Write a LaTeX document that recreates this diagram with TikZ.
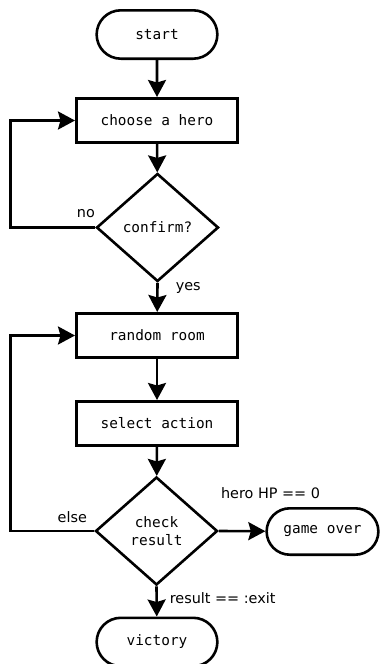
\documentclass[tikz,border=0pt]{standalone}
\usepackage{fontspec}
\setmainfont{DejaVu Sans}
\setmonofont{DejaVu Sans Mono}
\usetikzlibrary{shapes.geometric, shapes.misc, arrows.meta}
\begin{document}
\begin{tikzpicture}[
x=1pt, y=-1pt,
terminal/.style={rounded rectangle, draw=black, line width=2.6pt, minimum width=127.4pt, minimum height=48.4pt, font=\ttfamily\fontsize{14.4}{18}\selectfont},
process/.style={rectangle, draw=black, line width=2.6pt, minimum width=161.4pt, minimum height=44.4pt, font=\ttfamily\fontsize{14.4}{18}\selectfont},
decision/.style={diamond, draw=black, line width=2.6pt, inner sep=0pt, minimum width=122pt, minimum height=108pt, align=center, font=\ttfamily\fontsize{14.4}{18}\selectfont},
flow/.style={line width=2.6pt, -{Stealth[length=17pt, width=18pt, inset=2.5pt]}},
answer/.style={inner sep=0pt, font=\fontsize{14.4}{18}\selectfont},
]
\useasboundingbox (0,0) rectangle (384,664);
\node (start) [terminal] at (157,34.5) {start};
\node (hero) [process] at (157,120.5) {choose a hero};
\node (confirm) [decision] at (157.5,227.5) {confirm?};
\node (room) [process] at (157,335.5) {random room};
\node (action) [process] at (157,423.5) {select action};
\node (check) [decision] at (156.5,531) {check\\result};
\node (over) [terminal, minimum width=118.4pt, minimum height=46.4pt] at (322.5,531.5) {game over};
\node (victory) [terminal] at (157,642) {victory};
\draw[flow] (start) -- (hero);
\draw[flow] (hero) -- (confirm);
\draw[flow] (confirm.west) node[answer, anchor=base east, xshift=1pt, yshift=10pt] {no}
    -- ++(-84.5,0) |- (hero.west);
\draw[flow] (confirm.south) node[answer, anchor=base west, xshift=17pt, yshift=-8pt] {yes} -- (room);
\draw[flow] (room) -- (action);
\draw[flow] (action) -- (check);
\draw[flow] (check.west) node[answer, anchor=base east, xshift=-6pt, yshift=9pt] {else}
    -- ++(-83.5,0) |- (room.west);
\draw[flow] (check.east) node[answer, anchor=base west, xshift=1pt, yshift=33pt] {hero HP == 0} -- (over);
\draw[flow] (check.south) node[answer, anchor=base west, xshift=12pt, yshift=-17pt] {result == :exit} -- (victory);
\end{tikzpicture}
\end{document}
